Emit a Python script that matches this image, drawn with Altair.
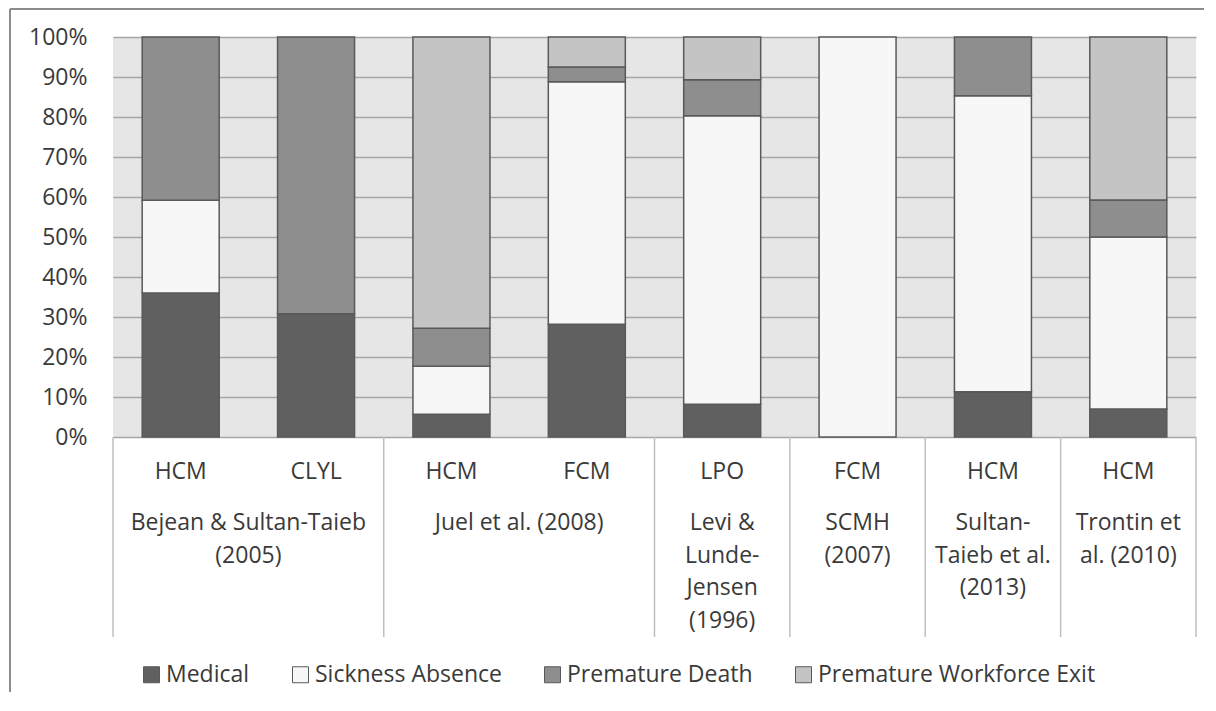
import altair as alt
import pandas as pd

studies = ["Bejean & Sultan-Taieb\n(2005)", "Bejean & Sultan-Taieb\n(2005)",
           "Juel et al. (2008)", "Juel et al. (2008)",
           "Levi &\nLunde-\nJensen\n(1996)", "SCMH\n(2007)",
           "Sultan-\nTaieb et al.\n(2013)", "Trontin et\nal. (2010)"]
methods = ["HCM", "CLYL", "HCM", "FCM", "LPO", "FCM", "HCM", "HCM"]
categories = ["Medical", "Sickness Absence", "Premature Death", "Premature Workforce Exit"]
medical = [36.0, 30.8, 5.7, 28.2, 8.2, 0.0, 11.3, 7.0]
sickness = [23.2, 0.0, 12.0, 60.6, 72.1, 100.0, 74.0, 43.0]
death = [40.8, 69.2, 9.5, 3.7, 9.0, 0.0, 14.7, 9.25]
workforce_exit = [0.0, 0.0, 72.8, 7.5, 10.7, 0.0, 0.0, 40.75]
fills = ["#606060", "#f7f7f7", "#8e8e8e", "#c4c4c4"]

series = [medical, sickness, death, workforce_exit]
rows = []
for i, (s, m) in enumerate(zip(studies, methods)):
    for k, (cat, vals) in enumerate(zip(categories, series)):
        rows.append({"idx": i, "study": s, "method": m, "category": cat,
                     "value": vals[i], "ord": k})
df = pd.DataFrame(rows)
bars_df = pd.DataFrame({"idx": range(len(methods)), "study": studies, "method": methods})
grp = bars_df.groupby("study", sort=False)["idx"].agg(["min", "max", "mean"]).reset_index()
sep_vals = sorted(set([v - 0.5 for v in grp["min"]] + [v + 0.5 for v in grp["max"]]))
sep_df = pd.DataFrame({"b": sep_vals})

W, H = 1083, 400
FONT = "Open Sans"
FS = 23
TXT = "#3a3a3a"
xs = alt.Scale(domain=[-0.5, len(methods) - 0.5], nice=False, zero=False, padding=0)

bars = alt.Chart(df).transform_filter("datum.value > 0").mark_bar(
    size=77, stroke="#595959", strokeWidth=1.5
).encode(
    x=alt.X("idx:Q", scale=xs, axis=None),
    y=alt.Y("value:Q", stack="zero", scale=alt.Scale(domain=[0, 100], nice=False),
            title=None,
            axis=alt.Axis(values=list(range(0, 101, 10)), labelExpr="datum.value + '%'",
                          tickSize=0, domain=False, labelPadding=26, labelFontSize=FS,
                          labelColor=TXT, gridColor="#a6a6a6", gridWidth=1.5)),
    color=alt.Color("category:N", scale=alt.Scale(domain=categories, range=fills),
                    legend=alt.Legend(orient="none", legendX=27, legendY=626,
                                      direction="horizontal", title=None,
                                      symbolType="square", symbolSize=256,
                                      symbolStrokeColor="#595959", symbolStrokeWidth=1,
                                      labelFontSize=FS, labelColor=TXT, labelOffset=3,
                                      columnPadding=39, labelLimit=400)),
    order=alt.Order("ord:Q"),
)

seps = alt.Chart(sep_df).mark_rule(color="#bfbfbf", strokeWidth=1.5).encode(
    x=alt.X("b:Q", scale=xs, axis=None), y=alt.value(H), y2=alt.value(H + 200)
)

sub = alt.Chart(bars_df).mark_text(fontSize=FS, baseline="alphabetic", color=TXT).encode(
    x=alt.X("idx:Q", scale=xs, axis=None), y=alt.value(442), text="method:N"
)

grp_txt = alt.Chart(grp).mark_text(fontSize=FS, baseline="alphabetic", color=TXT,
                                    lineBreak="\n", lineHeight=32.5).encode(
    x=alt.X("mean:Q", scale=xs, axis=None), y=alt.value(493), text="study:N"
)

frame_left = alt.Chart(sep_df).mark_rule(color="#8c8c8c", strokeWidth=1.5).encode(
    x=alt.value(-103), y=alt.value(-28), y2=alt.value(H + 260)
)
frame_top = alt.Chart(sep_df).mark_rule(color="#8c8c8c", strokeWidth=1.5).encode(
    x=alt.value(-103), x2=alt.value(W + 8), y=alt.value(-28)
)

chart = alt.layer(frame_left, frame_top, bars, seps, sub, grp_txt).properties(
    width=W, height=H,
    padding={"left": 105, "top": 29, "right": 8, "bottom": 255},
    autosize=alt.AutoSizeParams(type="none"),
).configure(font=FONT).configure_view(fill="#e6e6e6", strokeWidth=0)

chart.save("out.html", embed_options={"renderer": "svg", "actions": False})
